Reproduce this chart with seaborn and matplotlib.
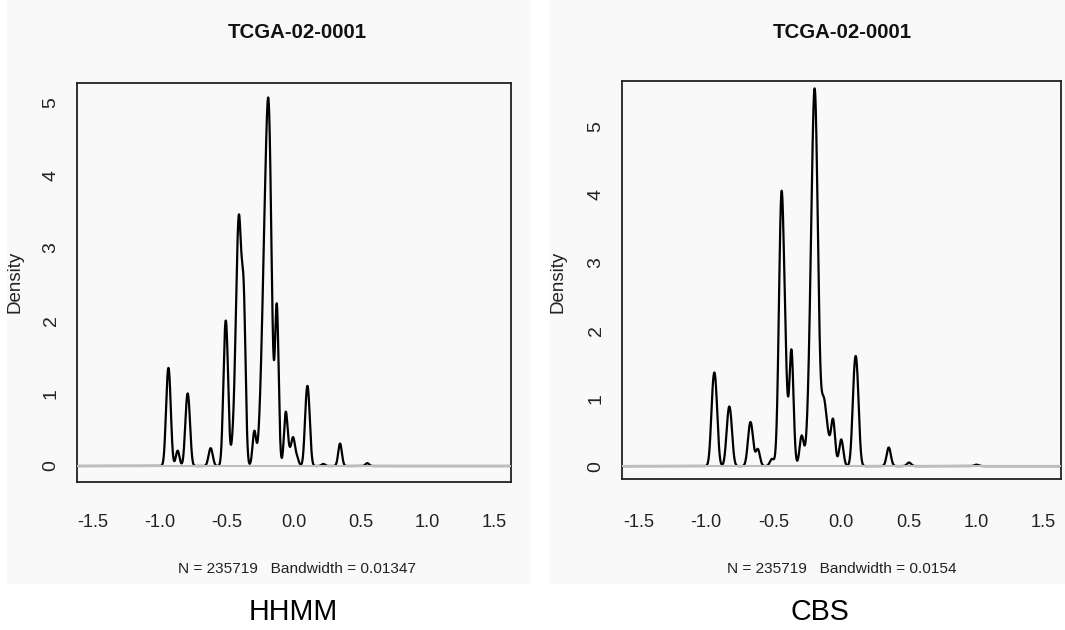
import numpy as np
import pandas as pd
import matplotlib
matplotlib.use("Agg")
import matplotlib.pyplot as plt
import seaborn as sns
from matplotlib.patches import Rectangle
from matplotlib import font_manager

# ---------------- data ----------------
sample_id = "TCGA-02-0001"
methods = ["HHMM", "CBS"]
n_probes = [235719, 235719]
bandwidths = [0.01347, 0.0154]

# segment log-ratio values and their probe fractions
hhmm_values = [-0.945, -0.927, -0.867, -0.801, -0.783, -0.627, -0.613,
               -0.516, -0.498, -0.452, -0.428, -0.408, -0.388, -0.370,
               -0.293, -0.258, -0.243, -0.228, -0.213, -0.198, -0.183,
               -0.168, -0.153, -0.138, -0.125, -0.058, -0.030, -0.003,
               0.025, 0.095, 0.113, 0.223, 0.348, 0.552]
hhmm_weights = [0.030, 0.030, 0.0075, 0.0222, 0.0222, 0.005, 0.005,
                0.0445, 0.0445, 0.012, 0.053, 0.089, 0.046, 0.064,
                0.017, 0.0071, 0.020, 0.040, 0.0616, 0.081, 0.094,
                0.0565, 0.0126, 0.001, 0.077, 0.026, 0.005, 0.013,
                0.004, 0.0245, 0.0245, 0.001, 0.011, 0.0014]

cbs_values = [-0.948, -0.926, -0.836, -0.816, -0.678, -0.660, -0.615,
              -0.510, -0.455, -0.442, -0.429, -0.410, -0.366, -0.290,
              -0.250, -0.235, -0.220, -0.205, -0.190, -0.175, -0.160,
              -0.145, -0.135, -0.118, -0.095, -0.058, 0.003,
              0.099, 0.121, 0.355, 0.505, 1.005]
cbs_weights = [0.034, 0.034, 0.0207, 0.0207, 0.0147, 0.0147, 0.0095,
               0.004, 0.037, 0.081, 0.058, 0.040, 0.065, 0.017,
               0.006, 0.020, 0.050, 0.085, 0.105, 0.066, 0.020,
               0.0017, 0.020, 0.020, 0.012, 0.026, 0.015,
               0.040, 0.040, 0.0105, 0.002, 0.0008]

x_ticks = [-1.5, -1.0, -0.5, 0.0, 0.5, 1.0, 1.5]
x_tick_labels = ["-1.5", "-1.0", "-0.5", "0.0", "0.5", "1.0", "1.5"]
y_ticks = [0, 1, 2, 3, 4, 5]
y_tick_labels = ["0", "1", "2", "3", "4", "5"]

# ---------------- style ----------------
sns.set_theme(style="white")
names = {f.name for f in font_manager.fontManager.ttflist}
has_narrow = "Liberation Sans Narrow" in names
narrow = ["Liberation Sans Narrow", "DejaVu Sans"] if has_narrow else ["Liberation Sans", "DejaVu Sans"]
regular = ["Liberation Sans", "DejaVu Sans"]
plt.rcParams["font.family"] = regular
plt.rcParams["axes.unicode_minus"] = False
k = 1.0 if has_narrow else 0.84  # size compensation when no narrow face

W, H = 1065, 630
fig = plt.figure(figsize=(W / 100, H / 100), dpi=100)
fig.patch.set_facecolor("white")

panel_bg = "#f9f9f9"
fig.add_artist(Rectangle((7 / W, 1 - 583 / H), (530 - 7) / W, 583 / H,
                         transform=fig.transFigure, color=panel_bg, zorder=-10))
fig.add_artist(Rectangle((550 / W, 1 - 583 / H), (W - 550) / W, 583 / H,
                         transform=fig.transFigure, color=panel_bg, zorder=-10))

# axes boxes in pixels: (left, top, right, bottom)
boxes = [(77, 83, 511, 482), (622, 81, 1061, 479)]
xlims = [(-1.62, 1.627), (-1.621, 1.631)]
ylims = [(-0.22, 5.27), (-0.19, 5.67)]
xpads = [13.5, 15.5]
title_x = [297, 842]
method_x = [293, 820]
density_x = [15, 558]

datasets = [(hhmm_values, hhmm_weights), (cbs_values, cbs_weights)]

for i in range(2):
    l, t, r, b = boxes[i]
    ax = fig.add_axes([l / W, 1 - b / H, (r - l) / W, (b - t) / H])
    ax.set_facecolor(panel_bg)
    vals, wts = datasets[i]
    df = pd.DataFrame({"value": vals, "weight": wts})
    sd = float(np.sqrt(np.cov(np.asarray(vals), aweights=np.asarray(wts))))
    sns.kdeplot(data=df, x="value", weights="weight", bw_method=bandwidths[i] / sd,
                gridsize=6000, cut=300, clip=xlims[i], color="black",
                linewidth=1.6, ax=ax)
    ax.axhline(0, color="#bdbdbd", linewidth=1.5, zorder=3)
    ax.set_xlim(*xlims[i])
    ax.set_ylim(*ylims[i])
    ax.set_xlabel("")
    ax.set_ylabel("")
    ax.set_xticks(x_ticks)
    ax.set_xticklabels(x_tick_labels, fontfamily=narrow, fontsize=15.5 * k)
    ax.set_yticks(y_ticks)
    ax.set_yticklabels(y_tick_labels, fontfamily=regular, fontsize=14,
                       rotation=90, va="center")
    ax.tick_params(axis="x", direction="out", length=9.4, width=1.0,
                   color="#222222", pad=xpads[i], labelcolor="#222222")
    ax.tick_params(axis="y", direction="out", length=6.5, width=1.0,
                   color="#222222", pad=6, labelcolor="#222222")
    for s in ax.spines.values():
        s.set_visible(True)
        s.set_color("#222222")
        s.set_linewidth(1.3)

    fig.text(title_x[i] / W, 1 - 32 / H, sample_id, ha="center", va="center",
             fontfamily=narrow, fontweight="bold", fontsize=17.5 * k, color="#111111")
    fig.text(title_x[i] / W, 1 - 569 / H,
             f"N = {n_probes[i]}   Bandwidth = {bandwidths[i]:g}",
             ha="center", va="center", fontfamily=narrow, fontsize=13.2 * k,
             color="#222222")
    fig.text(method_x[i] / W, 1 - 612 / H, methods[i], ha="center", va="center",
             fontfamily=narrow, fontsize=24.5 * k, color="black")
    fig.text(density_x[i] / W, 1 - 282 / H, "Density", rotation=90,
             ha="center", va="center", fontfamily=regular, fontsize=13.5,
             color="#222222")

fig.savefig("out.png", dpi=100, facecolor="white")
